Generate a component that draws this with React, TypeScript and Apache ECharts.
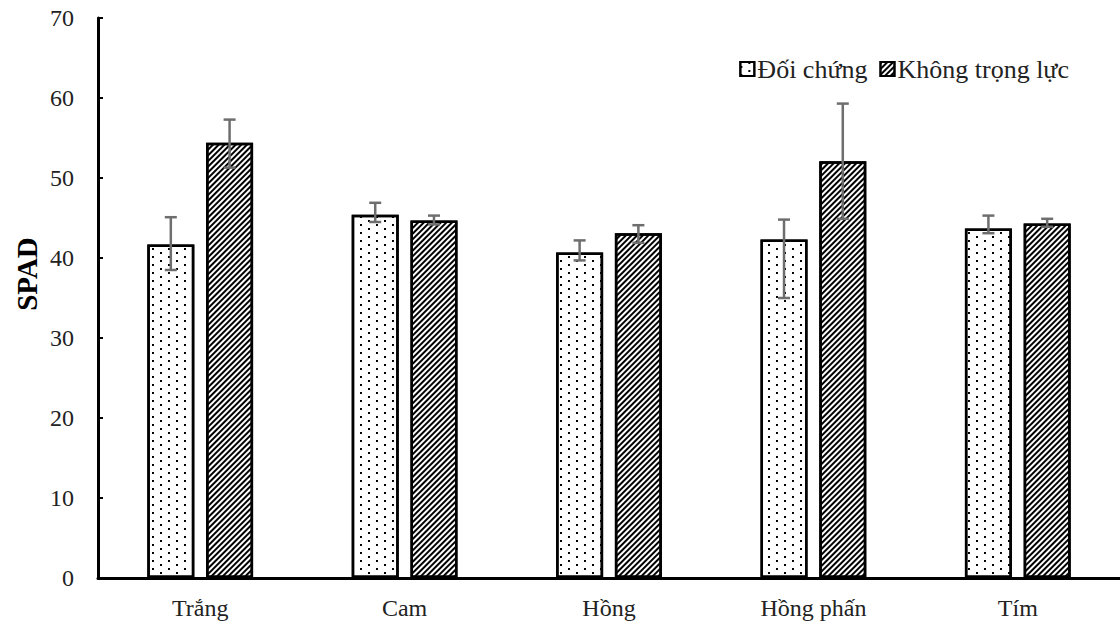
import React, { useEffect, useRef } from "react";
import * as echarts from "echarts";

const categories = ["Trắng", "Cam", "Hồng", "Hồng phấn", "Tím"];
const seriesNames = ["Đối chứng", "Không trọng lực"];
const controlValues = [41.7, 45.4, 40.7, 42.3, 43.7];
const controlErrUp = [3.4, 1.5, 1.5, 2.5, 1.6];
const controlErrDown = [3.2, 0.9, 1.0, 7.3, 0.6];
const treatValues = [54.4, 44.7, 43.1, 52.1, 44.3];
const treatErrUp = [2.9, 0.6, 1.0, 7.2, 0.6];
const treatErrDown = [3.1, 0.5, 1.2, 7.2, 0.4];
const yTicks = { min: 0, max: 70, interval: 10 };
const yTitle = "SPAD";

const FONT = "'Liberation Serif', 'Times New Roman', serif";
const BAR_W = 0.23;
const GAP = 0.25;

export default function App() {
  const ref = useRef<HTMLDivElement>(null);
  useEffect(() => {
    const chart = echarts.init(ref.current!, null, { renderer: "svg" });
    const makeErr = (vals: number[], up: number[], down: number[], sign: number) => ({
      type: "custom",
      silent: true,
      z: 10,
      data: vals.map((v, i) => [i, v - down[i], v + up[i]]),
      renderItem: (params: any, api: any) => {
        const idx = api.value(0);
        const lo = api.coord([idx, api.value(1)]);
        const hi = api.coord([idx, api.value(2)]);
        const band = api.size([1, 0])[0];
        const off = sign * ((BAR_W + BAR_W * GAP) / 2) * band;
        const x = lo[0] + off;
        const cap = 6;
        const style = { stroke: "#6e6e6e", lineWidth: 2.5 };
        return {
          type: "group",
          children: [
            { type: "line", shape: { x1: x, y1: lo[1], x2: x, y2: hi[1] }, style },
            { type: "line", shape: { x1: x - cap, y1: hi[1], x2: x + cap, y2: hi[1] }, style },
            { type: "line", shape: { x1: x - cap, y1: lo[1], x2: x + cap, y2: lo[1] }, style },
          ],
        };
      },
    });
    chart.setOption({
      animation: false,
      backgroundColor: "#ffffff",
      textStyle: { fontFamily: FONT },
      grid: { left: 98, right: 0, top: 18, bottom: 47, containLabel: false },
      graphic: [
        {
          type: "text",
          x: 27,
          y: 274,
          rotation: Math.PI / 2,
          style: {
            text: yTitle,
            font: "bold 29px 'Liberation Serif', 'Times New Roman', serif",
            fill: "#000",
            align: "center",
            verticalAlign: "middle",
          },
        },
      ],
      legend: {
        data: seriesNames,
        right: 46,
        top: 51,
        itemWidth: 14,
        itemHeight: 14,
        itemGap: 12,
        icon: "rect",
        textStyle: { fontFamily: FONT, fontSize: 26, color: "#222", padding: [0, 0, 0, -2] },
      },
      xAxis: {
        type: "category",
        data: categories,
        axisLine: { lineStyle: { color: "#000", width: 3 } },
        axisTick: { show: false },
        axisLabel: { fontFamily: FONT, fontSize: 24, color: "#222", margin: 18 },
      },
      yAxis: {
        type: "value",
        min: yTicks.min,
        max: yTicks.max,
        interval: yTicks.interval,
        splitLine: { show: false },
        axisLine: { show: true, lineStyle: { color: "#000", width: 3 } },
        axisTick: { show: true, inside: true, length: 5, lineStyle: { color: "#000", width: 2 } },
        axisLabel: { fontFamily: FONT, fontSize: 24, color: "#222", margin: 24 },
      },
      series: [
        {
          name: seriesNames[0],
          type: "bar",
          data: controlValues,
          barWidth: BAR_W * 100 + "%",
          barGap: GAP * 100 + "%",
          itemStyle: {
            color: "#ffffff",
            borderColor: "#000",
            borderWidth: 2.5,
            decal: {
              symbol: "rect",
              symbolSize: 1,
              color: "#000",
              backgroundColor: "#ffffff",
              dashArrayX: [[2, 14], [0, 8, 2, 6]],
              dashArrayY: [2, 2],
              rotation: 0,
            },
          },
        },
        {
          name: seriesNames[1],
          type: "bar",
          data: treatValues,
          barWidth: BAR_W * 100 + "%",
          barGap: GAP * 100 + "%",
          itemStyle: {
            color: "#ffffff",
            borderColor: "#000",
            borderWidth: 2.5,
            decal: {
              symbol: "rect",
              symbolSize: 1,
              color: "#000",
              backgroundColor: "#ffffff",
              dashArrayX: [1, 0],
              dashArrayY: [2, 2],
              rotation: -Math.PI / 4,
            },
          },
        },
        makeErr(controlValues, controlErrUp, controlErrDown, -1),
        makeErr(treatValues, treatErrUp, treatErrDown, 1),
      ],
    });
    return () => chart.dispose();
  }, []);
  return <div ref={ref} style={{ width: 1120, height: 625, position: "absolute", left: 0, top: 0 }} />;
}
